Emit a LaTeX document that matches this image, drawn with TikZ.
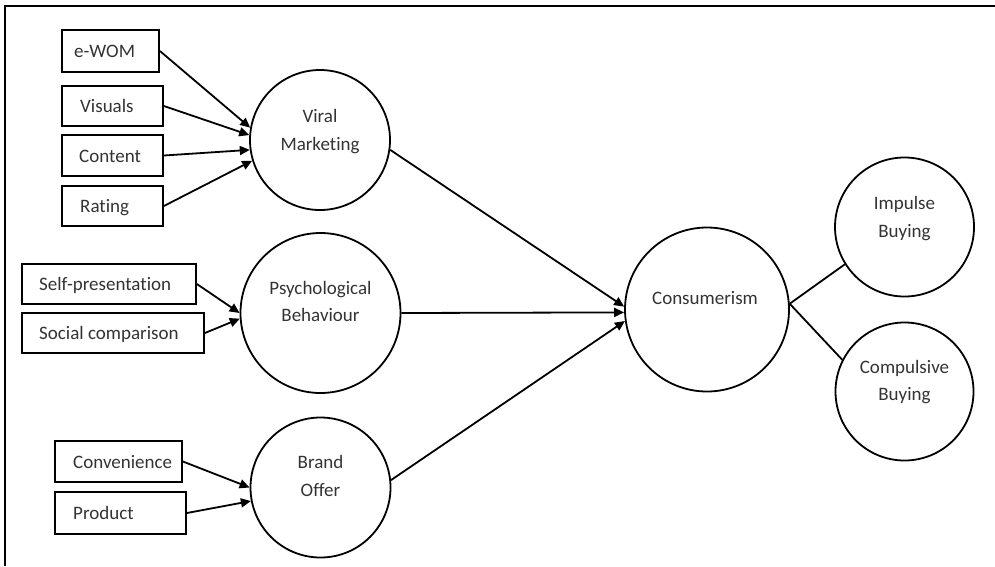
\documentclass[tikz,border=0pt]{standalone}
\usepackage{fontspec}
\setmainfont{Carlito}[Ligatures=NoCommon]
\usetikzlibrary{arrows.meta}
\begin{document}
\begin{tikzpicture}[x=1pt,y=-1pt,
  box/.style={draw, line width=1.8pt, rectangle, inner sep=0pt},
  circ/.style={draw, line width=1.8pt, circle, inner sep=0pt},
  txt/.style={font=\fontsize{19}{23}\selectfont, text=black!80, inner sep=0pt},
  arr/.style={line width=1.8pt, -{Triangle[length=10pt,width=9pt]}},
  ln/.style={line width=1.8pt}]
\useasboundingbox (0,0) rectangle (995,566);
\draw[ln] (995,6) -- (5,6) -- (5,566);

% boxes
\node[box, minimum width=97pt, minimum height=42pt] (ewom) at (110.5,51) {};
\node[box, minimum width=101pt, minimum height=40pt] (vis) at (112.5,106) {};
\node[box, minimum width=101pt, minimum height=41pt] (cont) at (112.5,155.5) {};
\node[box, minimum width=101pt, minimum height=40pt] (rat) at (112.5,206) {};
\node[box, minimum width=174pt, minimum height=40pt] (self) at (109,284) {};
\node[box, minimum width=182pt, minimum height=40pt] (soc) at (113,333) {};
\node[box, minimum width=127pt, minimum height=41pt] (conv) at (118.5,461.5) {};
\node[box, minimum width=131pt, minimum height=42pt] (prod) at (120.5,513) {};

\node[txt, anchor=base west] (ewomt) at (74,57.5) {e-WOM};
\node[txt, anchor=base west] (vist) at (80,112.5) {Visuals};
\node[txt, anchor=base west] (contt) at (79,162) {Content};
\node[txt, anchor=base west] (ratt) at (80,212.5) {Rating};
\node[txt, anchor=base west] (selft) at (39,290.5) {Self-presentation};
\node[txt, anchor=base west] (soct) at (39,339.5) {Social comparison};
\node[txt, anchor=base west] (convt) at (73,468) {Convenience};
\node[txt, anchor=base west] (prodt) at (73,519.5) {Product};

% circles
\node[circ, minimum size=140pt] (vm) at (320,140) {};
\node[circ, minimum size=160pt] (pb) at (320.5,313) {};
\node[circ, minimum size=140pt] (bo) at (320.5,487.5) {};
\node[circ, minimum size=164pt] (cs) at (707,309.5) {};
\node[circ, minimum size=139pt] (ib) at (904.5,227) {};
\node[circ, minimum size=138pt] (cb) at (904.5,391.5) {};

\node[txt, anchor=base] (vm1) at (320,122) {Viral};
\node[txt, anchor=base] (vm2) at (320,150) {Marketing};
\node[txt, anchor=base] (pb1) at (320.5,294) {Psychological};
\node[txt, anchor=base] (pb2) at (320.5,321) {Behaviour};
\node[txt, anchor=base] (bo1) at (320.5,468) {Brand};
\node[txt, anchor=base] (bo2) at (320.5,496) {Offer};
\node[txt, anchor=base] (cs1) at (705,304) {Consumerism};
\node[txt, anchor=base] (ib1) at (904.5,209) {Impulse};
\node[txt, anchor=base] (ib2) at (904.5,237) {Buying};
\node[txt, anchor=base] (cb1) at (904.5,373) {Compulsive};
\node[txt, anchor=base] (cb2) at (904.5,400) {Buying};

% connectors
\draw[arr] (ewom.east) -- (vm.170);
\draw[arr] (vis.east) -- (vm.176);
\draw[arr] (cont.east) -- (vm.188);
\draw[arr] (rat.east) -- (vm.197);
\draw[arr] (self.east) -- (pb.180);
\draw[arr] (soc.east) -- (pb.184);
\draw[arr] (conv.east) -- (bo.180);
\draw[arr] (prod.east) -- (bo.191);
\draw[arr] (vm.-8) -- (cs.178);
\draw[arr] (pb.east) -- (cs.182);
\draw[arr] (bo.6) -- (cs.188);
\draw[ln] (cs.4) -- (ib.212);
\draw[ln] (cs.4) -- (cb.153);
\end{tikzpicture}
\end{document}
